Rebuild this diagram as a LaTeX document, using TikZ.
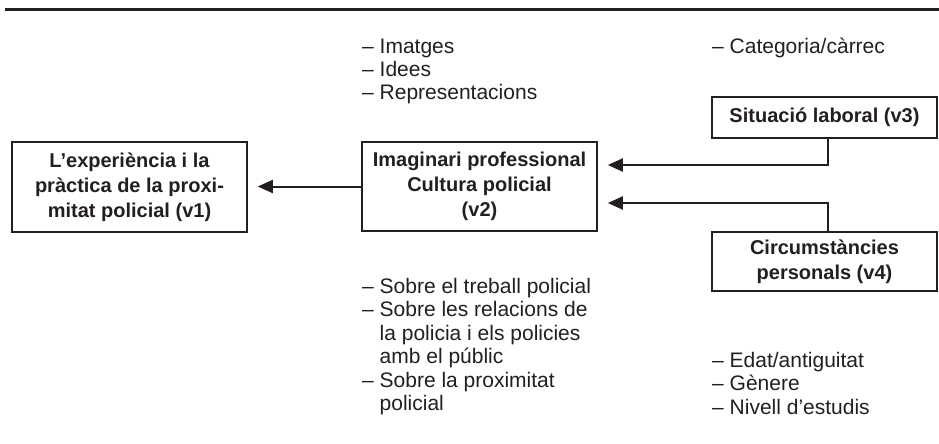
\documentclass[tikz,border=0pt]{standalone}
\usepackage{fontspec}
\setmainfont{Liberation Sans}
\usetikzlibrary{arrows.meta}
\definecolor{ink}{RGB}{35,31,32}
\begin{document}
\begin{tikzpicture}[x=1pt,y=-1pt,
  box/.style={draw=ink, line width=1.6pt, align=center, inner sep=0pt, text=ink,
    font=\fontsize{20}{25}\selectfont\bfseries},
  arr/.style={draw=ink, line width=2pt, -{Triangle[length=15pt,width=13pt]}},
  lst/.style={anchor=base west, inner sep=0pt, text=ink,
    font=\fontsize{21}{23.5}\selectfont}]
\useasboundingbox (0,0) rectangle (939,444);
\fill[white] (0,0) rectangle (939,444);
\draw[ink, line width=3pt] (5,10) -- (939,10);

\node[box, minimum width=235pt, minimum height=90pt] (v1) at (129.5,187)
  {L’experiència i la\\pràctica de la proxi-\\mitat policial (v1)};
\node[box, minimum width=235pt, minimum height=89pt] (v2) at (479.5,186.5)
  {Imaginari professional\\Cultura policial\\(v2)};
\node[box, minimum width=225pt, minimum height=41pt] (v3) at (824.5,117.5)
  {Situació laboral (v3)};
\node[box, minimum width=225pt, minimum height=59pt] (v4) at (824.5,261.5)
  {Circumstàncies\\personals (v4)};

\coordinate (ya) at (0,165);
\coordinate (yb) at (0,203);
\draw[arr, shorten >=10pt] (v2.west) -- (v2.west -| v1.east);
\draw[arr, shorten >=10pt] ([xshift=3.5pt]v3.south) |- (v2.east |- ya);
\draw[arr, shorten >=10pt] ([xshift=3.5pt]v4.north) |- (v2.east |- yb);

\node[lst] (l1) at (362,53)
  {\begin{tabular}[t]{@{}l@{}}– Imatges\\– Idees\\– Representacions\end{tabular}};
\node[lst] (l2) at (712,53)
  {\begin{tabular}[t]{@{}l@{}}– Categoria/càrrec\end{tabular}};
\node[lst] (l3) at (362,293)
  {\begin{tabular}[t]{@{}l@{}}– Sobre el treball policial\\– Sobre les relacions de\\\phantom{– }la policia i els policies\\\phantom{– }amb el públic\\– Sobre la proximitat\\\phantom{– }policial\end{tabular}};
\node[lst] (l4) at (712,367)
  {\begin{tabular}[t]{@{}l@{}}– Edat/antiguitat\\– Gènere\\– Nivell d’estudis\end{tabular}};
\end{tikzpicture}
\end{document}
